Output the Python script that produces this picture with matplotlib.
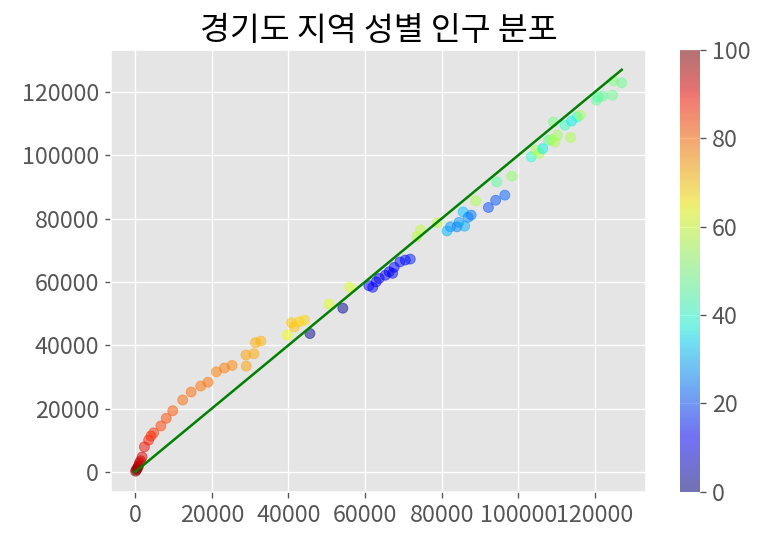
import matplotlib.pyplot as plt
import numpy as np

plt.style.use('ggplot')
plt.rcParams['font.family'] = ['Noto Sans CJK KR', 'DejaVu Sans']
plt.rcParams['font.weight'] = 'light'
plt.rcParams['xtick.labelsize'] = 14
plt.rcParams['ytick.labelsize'] = 14

# 남성 / 여성 인구 (x, y) 와 색상 값
male = [100, 300, 500, 700, 900, 1100, 1400, 1800, 2400, 3500, 4100, 4800,
        6700, 8100, 9800, 12400, 14600, 17100, 19000, 21200, 23300, 25300,
        29000, 28900, 31000, 31400, 32800, 39700, 40800, 41500, 42800, 44200,
        45600, 50600, 54200, 56000,
        61000, 62000, 62900, 63700, 65300, 66300, 67200, 67600, 69100, 70500, 71800,
        73500, 74500, 78900,
        81400, 82300, 84000, 84500, 86000, 85600, 86900, 87700, 92200, 94100, 96500,
        88900, 94400, 98300,
        103400, 104700, 105500, 106400, 107900, 108700, 109600, 110200, 109200,
        112200, 113700, 113900, 115400, 116100,
        120400, 120900, 122100, 124600, 124800, 127000]
female = [200, 600, 1000, 1500, 2000, 2800, 3500, 4700, 7900, 10000, 11300, 12300,
          14500, 16900, 19300, 22700, 25200, 27100, 28300, 31600, 32800, 33600,
          33400, 36900, 37300, 40800, 41300, 43200, 47100, 45800, 47400, 47900,
          43700, 53000, 51700, 58300,
          58800, 58300, 60000, 61100, 62100, 63200, 62700, 64600, 66300, 66900, 67200,
          74300, 76400, 78700,
          76100, 77400, 77400, 78800, 77600, 82100, 80400, 81100, 83500, 85800, 87400,
          85600, 91600, 93400,
          99500, 101600, 100600, 102100, 104700, 105000, 104200, 106300, 110500,
          109500, 105600, 110800, 112100, 112600,
          117400, 118400, 118700, 119000, 123500, 122900]
ratio = [100, 99, 98, 97, 96, 95, 94, 92, 90, 88, 87, 86,
         84, 83, 82, 80, 80, 79, 79, 78, 78, 77,
         74, 74, 73, 73, 72, 64, 70, 70, 69, 68,
         1, 62, 2, 62,
         12, 11, 12, 10, 11, 12, 10, 13, 14, 13, 15,
         57, 58, 57,
         30, 28, 25, 27, 30, 32, 26, 24, 20, 21, 22,
         56, 46, 52,
         40, 56, 55, 36, 45, 54, 56, 54, 49,
         42, 56, 36, 38, 55,
         46, 45, 47, 48, 50, 48]

fig = plt.figure(figsize=(770 / 120, 540 / 120), dpi=120)
ax = fig.add_axes([0.144, 0.089, 0.695, 0.819])
cax = fig.add_axes([0.883, 0.089, 0.026, 0.819])

sc = ax.scatter(male, female, c=ratio, cmap='jet', alpha=0.5, vmin=0, vmax=100)
ax.plot([0, max(male)], [0, max(male)], color='g')
ax.set_title('경기도 지역 성별 인구 분포', fontsize=19.5)

cb = fig.colorbar(sc, cax=cax)
cb.outline.set_visible(False)

fig.savefig('out.png', dpi=120)
